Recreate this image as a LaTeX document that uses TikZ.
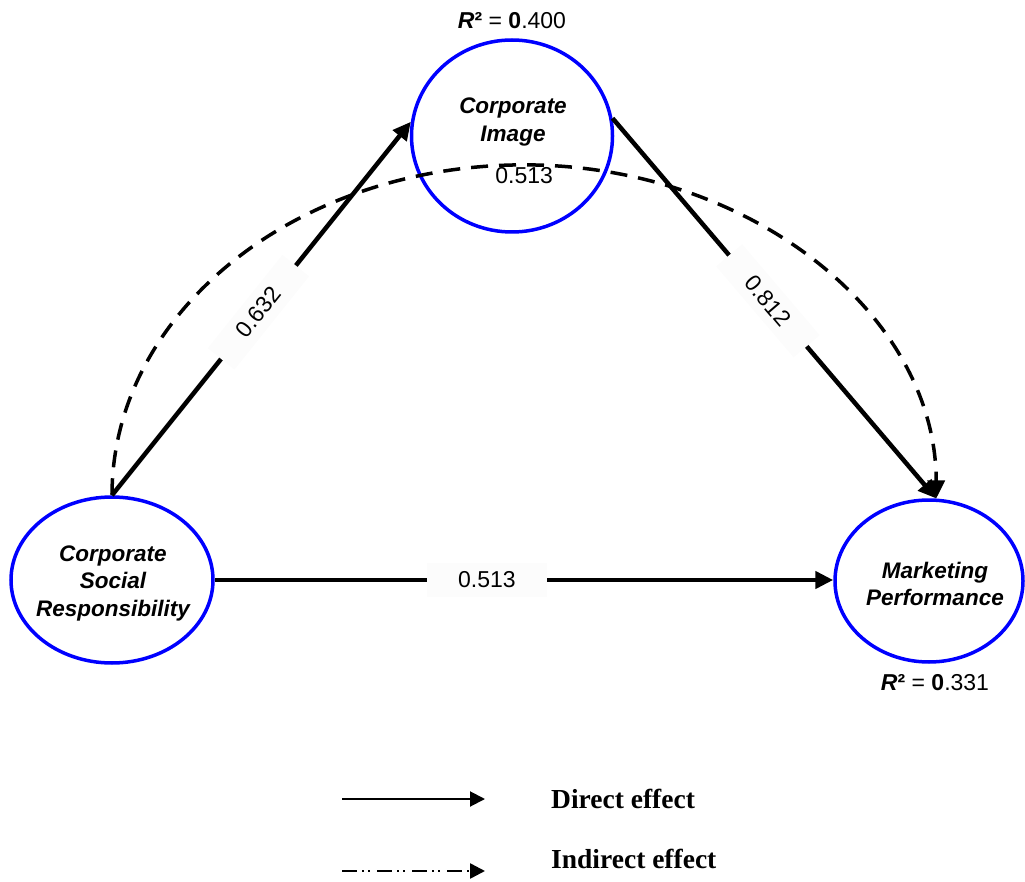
\documentclass[tikz,border=0pt]{standalone}
\usepackage{fontspec}
\setmainfont{Liberation Sans}
\newfontfamily\legendfont{Liberation Serif}
\usetikzlibrary{shapes.geometric,arrows.meta,calc}

\begin{document}
\begin{tikzpicture}[x=1pt,y=1pt,
  construct/.style={ellipse, draw=blue, line width=3.5pt, fill=white, inner sep=0pt},
  constructtext/.style={align=center, inner sep=0pt,
    font=\fontsize{22.5}{27.5}\selectfont\bfseries\itshape},
  rsq/.style={anchor=base, inner sep=0pt, font=\fontsize{23}{26}\selectfont},
  direct/.style={line width=4.5pt, -{Triangle[length=18pt,width=17pt]}},
  indirect/.style={line width=3.5pt, dash pattern=on 17pt off 11pt,
    -{Triangle[length=18pt,width=17pt]}},
  coef/.style={font=\fontsize{23}{26}\selectfont, fill=gray!2,
    inner xsep=31pt, inner ysep=9pt, sloped},
  legdirect/.style={line width=2pt, -{Triangle[length=15pt,width=15pt]}},
  legindirect/.style={line width=2.5pt,
    dash pattern=on 15pt off 5pt on 2pt off 4pt on 2pt off 7pt,
    -{Triangle[length=15pt,width=15pt]}},
  legtext/.style={anchor=base west, inner sep=0pt,
    font=\legendfont\fontsize{27.5}{30}\selectfont\bfseries},
]
\useasboundingbox (0,0) rectangle (1025,-882);

% latent constructs
\node[construct, minimum width=201pt, minimum height=192pt] (ci)  at (512,-136) {};
\node[construct, minimum width=202pt, minimum height=166pt] (csr) at (112,-580) {};
\node[construct, minimum width=188pt, minimum height=162pt] (mp)  at (929,-581) {};

\node[constructtext] (ci-t)  at (513,-122) {Corporate\\Image};
\node[constructtext] (csr-t) at (113,-583) {Corporate\\Social\\Responsibility};
\node[constructtext] (mp-t)  at (935,-584) {Marketing\\Performance};

% explained variance
\node[rsq] (ci-r2) at ([yshift=10pt]ci.north)
  {\textbf{\textit{R}²} = \textbf{0}.400};
\node[rsq] (mp-r2) at ([xshift=6pt,yshift=-26.5pt]mp.south)
  {\textbf{\textit{R}²} = \textbf{0}.331};

% indirect path (half ellipse through the apex)
\coordinate (apex) at ($(csr.north)!0.5!(mp.85)+(0,332)$);
\draw[indirect] (csr.north) .. controls +(0,183) and +(-227.5,0) .. (apex)
  .. controls +(227.5,0) and +(0,183) .. (mp.85);
\node[anchor=north, inner sep=2pt, font=\fontsize{23}{26}\selectfont] (ind-l) at (apex) {0.513};

% direct paths
\draw[direct] (csr.north) -- node[coef, pos=0.49] (l-a) {0.632} (ci.172);
\draw[direct] (ci.10) -- node[coef, pos=0.48] (l-b) {0.812} (mp.85);
\draw[direct] (csr.east) -- node[coef, pos=0.44] (l-c) {0.513} (csr.east -| mp.west);

% legend
\coordinate (d0) at (342,-799);
\coordinate (d1) at (485,-799);
\coordinate (i0) at (342,-871);
\coordinate (i1) at (485,-871);
\draw[legdirect] (d0) -- (d1);
\draw[legindirect] (i0) -- (i1);
\node[legtext] (leg-d) at (551,-808) {Direct effect};
\node[legtext] (leg-i) at (551,-868) {Indirect effect};
\end{tikzpicture}
\end{document}
